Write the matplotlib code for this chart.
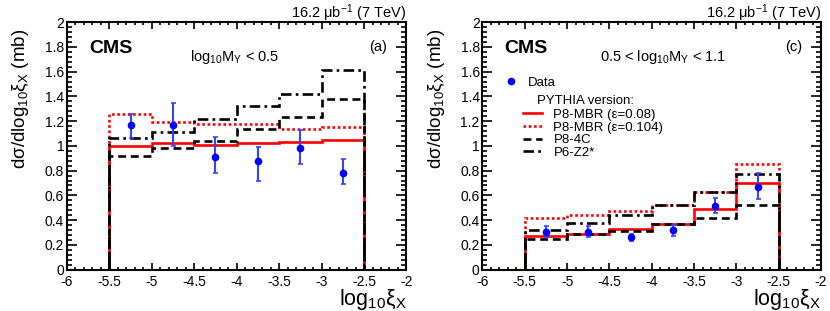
import numpy as np
import matplotlib
matplotlib.use("Agg")
import matplotlib.pyplot as plt
from matplotlib.lines import Line2D
from matplotlib.ticker import MultipleLocator, FormatStrFormatter

plt.rcParams["font.family"] = ["Liberation Sans", "DejaVu Sans"]
plt.rcParams["mathtext.fontset"] = "custom"
plt.rcParams["mathtext.rm"] = "Liberation Sans"
plt.rcParams["mathtext.it"] = "Liberation Sans:italic"
plt.rcParams["mathtext.bf"] = "Liberation Sans:bold"
plt.rcParams["axes.unicode_minus"] = False

# bins in log10(xi_X), empty outside [-5.5, -2.5]
edges = [-6, -5.5, -5, -4.5, -4, -3.5, -3, -2.5, -2]
centers = [-5.25, -4.75, -4.25, -3.75, -3.25, -2.75]

# panel (a): log10 MY < 0.5
mbr08_a = [1.00, 1.02, 1.01, 1.02, 1.03, 1.05]
mbr104_a = [1.26, 1.19, 1.18, 1.18, 1.14, 1.15]
p84c_a = [0.92, 0.98, 1.04, 1.14, 1.23, 1.38]
z2_a = [1.06, 1.11, 1.22, 1.32, 1.42, 1.61]
data_a = [1.17, 1.17, 0.91, 0.88, 0.98, 0.78]
eup_a = [0.09, 0.18, 0.16, 0.11, 0.15, 0.11]
edn_a = [0.11, 0.17, 0.13, 0.16, 0.13, 0.09]

# panel (c): 0.5 < log10 MY < 1.1
mbr08_c = [0.275, 0.29, 0.33, 0.37, 0.49, 0.70]
mbr104_c = [0.42, 0.44, 0.475, 0.52, 0.63, 0.85]
p84c_c = [0.25, 0.29, 0.315, 0.365, 0.42, 0.52]
z2_c = [0.32, 0.38, 0.44, 0.52, 0.63, 0.77]
data_c = [0.305, 0.305, 0.26, 0.32, 0.51, 0.67]
eup_c = [0.045, 0.045, 0.03, 0.04, 0.07, 0.11]
edn_c = [0.045, 0.045, 0.03, 0.05, 0.05, 0.10]

labels = ["P8-MBR (ε=0.08)", "P8-MBR (ε=0.104)", "P8-4C", "P6-Z2*"]
styles = [("red", "-"), ("red", (0, (1, 1))), ("black", (0, (3, 1.8))), ("black", (0, (4, 1.6, 1, 1.6)))]

fig = plt.figure(figsize=(8.3, 3.11), dpi=100)
ax_a = fig.add_axes([0.0807, 0.1334, 0.409, 0.795])
ax_c = fig.add_axes([0.5813, 0.1334, 0.408, 0.795])


def draw_panel(ax, models, data, eup, edn, region, tag):
    for vals, (col, ls) in zip(models, styles):
        ax.stairs([0] + list(vals) + [0], edges, color=col, linestyle=ls, lw=1.9)
    ax.errorbar(centers, data, yerr=[edn, eup], fmt="o", color="#0000ff", ecolor="#3344ff",
                ms=4.5, elinewidth=1.5, capsize=1.8, capthick=1.2)
    ax.set_xlim(-6, -2)
    ax.set_ylim(0, 2)
    ax.xaxis.set_major_locator(MultipleLocator(0.5))
    ax.xaxis.set_minor_locator(MultipleLocator(0.1))
    ax.yaxis.set_major_locator(MultipleLocator(0.2))
    ax.yaxis.set_minor_locator(MultipleLocator(0.04))
    ax.xaxis.set_major_formatter(FormatStrFormatter("%g"))
    ax.yaxis.set_major_formatter(FormatStrFormatter("%g"))
    ax.tick_params(which="both", direction="in", top=True, right=True, labelsize=10, width=1.2)
    ax.tick_params(axis="x", which="major", length=5, pad=4)
    ax.tick_params(axis="x", which="minor", length=2.5)
    ax.tick_params(axis="y", which="major", length=7, pad=2)
    ax.tick_params(axis="y", which="minor", length=3.5)
    for s in ax.spines.values():
        s.set_linewidth(1.5)
    ax.set_ylabel("dσ/dlog$_{10}$ξ$_{\\mathrm{X}}$ (mb)", fontsize=13.5, loc="top")
    ax.yaxis.set_label_coords(-0.105, 0.975)
    ax.set_xlabel("log$_{10}$ξ$_{\\mathrm{X}}$", fontsize=15.5, loc="right")
    ax.xaxis.set_label_coords(1.0, -0.072)
    ax.text(1.0, 1.018, "16.2 μb$^{-1}$ (7 TeV)", transform=ax.transAxes,
            ha="right", va="baseline", fontsize=10.5)
    ax.text(0.065, 0.895, "CMS", transform=ax.transAxes, ha="left", va="center",
            fontsize=14, fontweight="bold")
    ax.text(0.943, 0.9, tag, transform=ax.transAxes, ha="right", va="center", fontsize=10.5)
    ax.text(region[0], 0.86, region[1], transform=ax.transAxes, ha="center", va="center",
            fontsize=10.5)


draw_panel(ax_a, [mbr08_a, mbr104_a, p84c_a, z2_a], data_a, eup_a, edn_a,
           (0.493, "log$_{10}$M$_{\\mathrm{Y}}$ < 0.5"), "(a)")
draw_panel(ax_c, [mbr08_c, mbr104_c, p84c_c, z2_c], data_c, eup_c, edn_c,
           (0.533, "0.5 < log$_{10}$M$_{\\mathrm{Y}}$ < 1.1"), "(c)")

# legend in panel (c)
h_data = Line2D([], [], marker="o", color="#0000ff", ls="none", ms=4.5)
leg1 = ax_c.legend([h_data], ["Data"], loc="upper left", bbox_to_anchor=(0.06, 0.78),
                   frameon=False, fontsize=9.5, borderpad=0, borderaxespad=0,
                   handlelength=1.2, handletextpad=0.7)
ax_c.add_artist(leg1)
ax_c.text(0.16, 0.683, "PYTHIA version:", transform=ax_c.transAxes, ha="left", va="center",
          fontsize=9.5)
handles = [Line2D([], [], color=c, ls=ls, lw=1.9) for c, ls in styles]
ax_c.legend(handles, labels, loc="upper left", bbox_to_anchor=(0.12, 0.65), frameon=False,
            fontsize=9.5, borderpad=0, borderaxespad=0, handlelength=1.4,
            handletextpad=0.9, labelspacing=0.03)

fig.savefig("out.png", dpi=100)
